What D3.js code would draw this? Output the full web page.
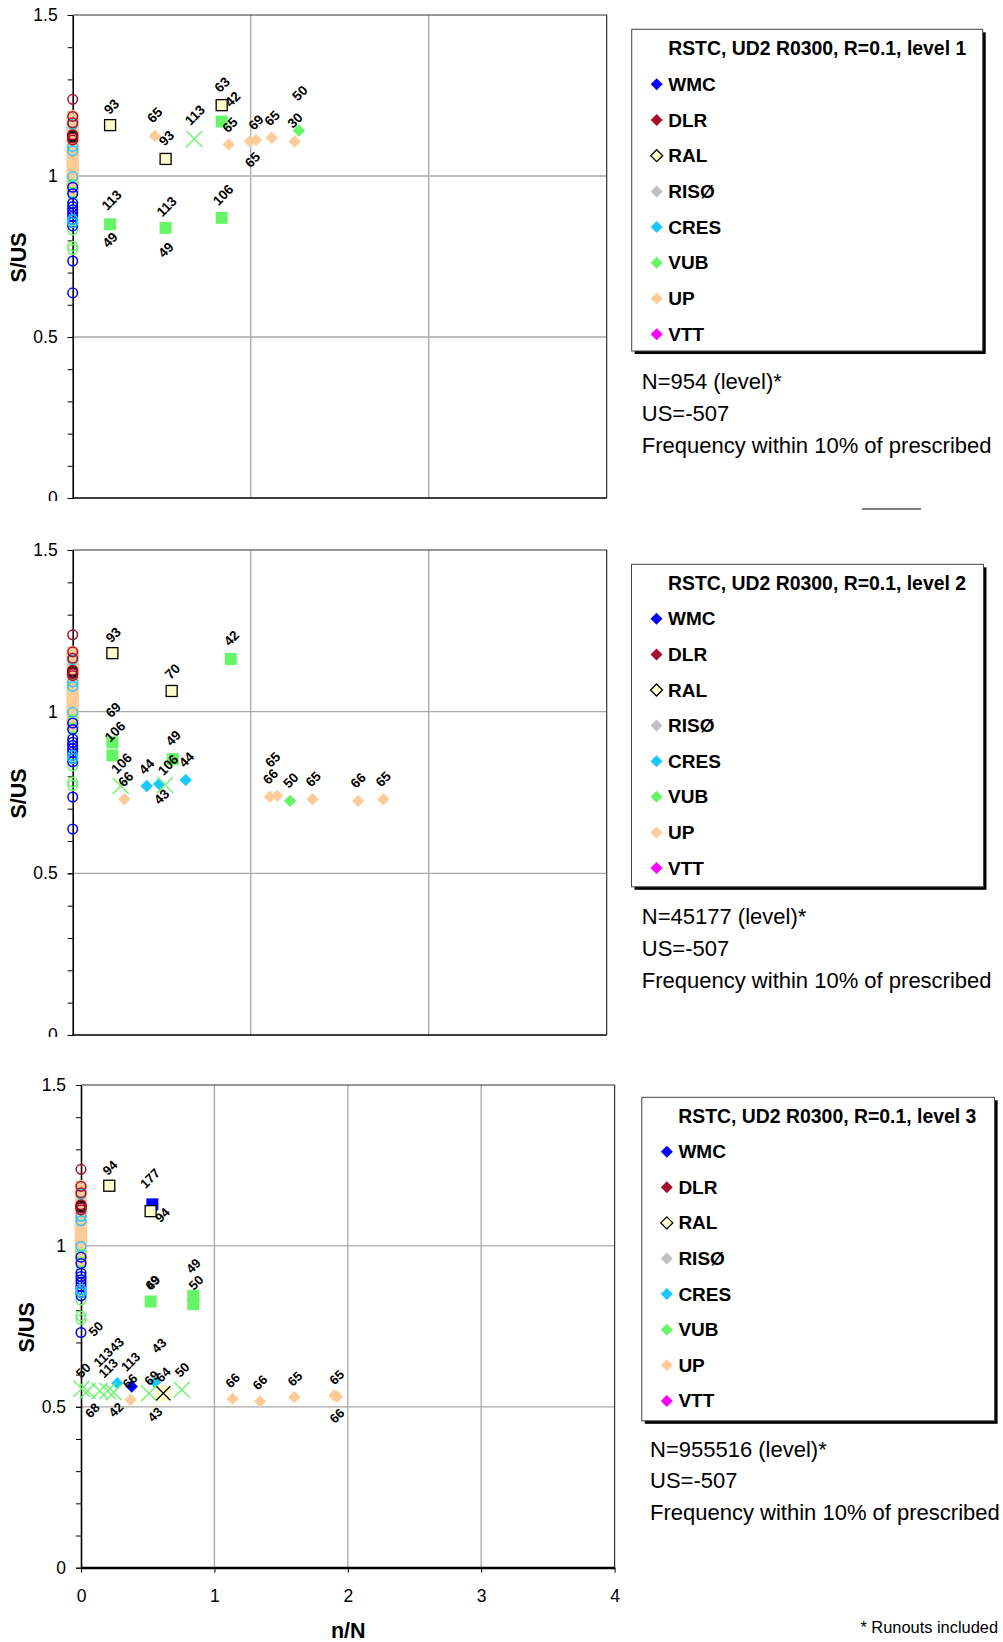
<!DOCTYPE html>
<html>
<head>
<meta charset="utf-8">
<script src="https://cdn.jsdelivr.net/npm/d3@7"></script>
<style>
  body { margin: 0; background: #fff; }
  svg { display: block; }
  text { font-family: "Liberation Sans", Arial, Helvetica, sans-serif; }
</style>
</head>
<body>
<svg id="chart" width="1003" height="1642"></svg>
<script>
// ---------------- data ----------------
const seriesNames = ["WMC", "DLR", "RAL", "RISØ", "CRES", "VUB", "UP", "VTT"];
const yTickValues = [0, 0.5, 1, 1.5];
const xTickValues = [0, 1, 2, 3, 4];
const legendTitles = [
  "RSTC, UD2 R0300, R=0.1, level 1",
  "RSTC, UD2 R0300, R=0.1, level 2",
  "RSTC, UD2 R0300, R=0.1, level 3"
];
const noteCounts = ["N=954 (level)*", "N=45177 (level)*", "N=955516 (level)*"];
const noteUS = "US=-507";
const noteFreq = "Frequency within 10% of prescribed";
const footNote = "* Runouts included";

// open circles at n/N = 0, S/US values per series
const colUP = [1.185, 1.175, 1.165, 1.155, 1.145, 1.135, 1.125, 1.115, 1.105, 1.095, 1.085,
               1.075, 1.065, 1.055, 1.045, 1.035, 1.025, 1.015, 1.005, 0.995, 0.985, 0.975, 0.965, 0.955];
const colVUB = [0.975, 0.95, 0.922, 0.832, 0.782, 0.772];
const colWMC12 = [0.965, 0.945, 0.915, 0.905, 0.895, 0.885, 0.875, 0.865, 0.855, 0.845, 0.736, 0.637];
const colWMC3 = [0.965, 0.945, 0.915, 0.905, 0.895, 0.885, 0.875, 0.865, 0.855, 0.845, 0.731];
const colCRES = [1.16, 1.092, 1.078, 0.998, 0.865, 0.855];
const colRAL = [1.125, 1.12];
const colDLR = [1.238, 1.185, 1.165, 1.128, 1.118, 1.112];

// level 1: [series, n/N, S/US]
const squares1 = [["RAL", 0.21, 1.158], ["RAL", 0.522, 1.053], ["RAL", 0.837, 1.22],
                  ["VUB", 0.21, 0.85], ["VUB", 0.522, 0.839], ["VUB", 0.837, 0.87], ["VUB", 0.837, 1.169]];
const diamonds1 = [["UP", 0.462, 1.124], ["UP", 0.876, 1.098], ["UP", 0.996, 1.108], ["UP", 1.03, 1.112],
                   ["UP", 1.118, 1.119], ["UP", 1.247, 1.107], ["VUB", 1.271, 1.141]];
const crosses1 = [["VUB", 0.683, 1.115]];
// point labels: [n/N, S/US, text]
const labels1 = [[0.219, 1.215, "93"], [0.462, 1.189, "65"], [0.528, 1.117, "93"], [0.687, 1.189, "113"],
                 [0.840, 1.283, "63"], [0.899, 1.238, "42"], [0.884, 1.158, "65"], [1.03, 1.166, "69"],
                 [1.121, 1.179, "65"], [1.011, 1.050, "65"], [1.277, 1.257, "50"], [1.249, 1.172, "30"],
                 [0.219, 0.925, "113"], [0.210, 0.801, "49"], [0.528, 0.905, "113"], [0.524, 0.770, "49"],
                 [0.846, 0.941, "106"]];

// level 2
const squares2 = [["RAL", 0.223, 1.181], ["RAL", 0.556, 1.064], ["VUB", 0.888, 1.163],
                  ["VUB", 0.223, 0.905], ["VUB", 0.223, 0.865], ["VUB", 0.562, 0.853]];
const diamonds2 = [["CRES", 0.416, 0.770], ["CRES", 0.485, 0.776], ["CRES", 0.635, 0.789], ["VUB", 1.221, 0.724],
                   ["UP", 0.290, 0.729], ["UP", 1.108, 0.737], ["UP", 1.149, 0.740], ["UP", 1.348, 0.729],
                   ["UP", 1.604, 0.724], ["UP", 1.745, 0.729]];
const crosses2 = [["VUB", 0.270, 0.770], ["VUB", 0.519, 0.773]];
const labels2 = [[0.228, 1.237, "93"], [0.561, 1.124, "70"], [0.893, 1.227, "42"], [0.228, 1.005, "69"],
                 [0.238, 0.938, "106"], [0.275, 0.840, "106"], [0.299, 0.791, "66"], [0.565, 0.918, "49"],
                 [0.416, 0.830, "44"], [0.537, 0.835, "106"], [0.50, 0.737, "43"], [0.640, 0.851, "44"],
                 [1.112, 0.799, "66"], [1.124, 0.851, "65"], [1.226, 0.787, "50"], [1.352, 0.791, "65"],
                 [1.604, 0.787, "66"], [1.745, 0.791, "65"]];

// level 3
const squares3 = [["RAL", 0.212, 1.187], ["WMC", 0.535, 1.129], ["RAL", 0.522, 1.108],
                  ["VUB", 0.522, 0.827], ["VUB", 0.842, 0.845], ["VUB", 0.842, 0.819]];
const diamonds3 = [["CRES", 0.272, 0.573], ["CRES", 0.555, 0.576], ["WMC", 0.38, 0.563],
                   ["UP", 0.372, 0.522], ["UP", 1.137, 0.525], ["UP", 1.342, 0.517], ["UP", 1.599, 0.530],
                   ["UP", 1.90, 0.535], ["UP", 1.92, 0.532]];
const crosses3 = [["VUB", 0.005, 0.556], ["VUB", 0.05, 0.549], ["VUB", 0.14, 0.549], ["VUB", 0.20, 0.549],
                  ["VUB", 0.245, 0.545], ["VUB", 0.51, 0.542], ["VUB", 0.755, 0.553], ["RAL", 0.617, 0.542]];
const labels3 = [[0.217, 1.243, "94"], [0.517, 1.210, "177"], [0.610, 1.096, "94"], [0.537, 0.886, "69"],
                 [0.537, 0.886, "49"], [0.842, 0.938, "49"], [0.862, 0.886, "50"], [0.112, 0.742, "50"],
                 [0.017, 0.613, "50"], [0.085, 0.489, "68"], [0.167, 0.654, "113"], [0.267, 0.693, "43"],
                 [0.205, 0.620, "113"], [0.262, 0.491, "42"], [0.372, 0.640, "113"], [0.367, 0.580, "66"],
                 [0.530, 0.590, "69"], [0.617, 0.600, "64"], [0.758, 0.615, "50"], [0.585, 0.690, "43"],
                 [0.555, 0.476, "43"], [1.137, 0.582, "66"], [1.342, 0.576, "66"], [1.604, 0.587, "65"],
                 [1.917, 0.592, "65"], [1.919, 0.472, "66"]];

// ---------------- styles ----------------
const colors = {
  WMC: "#0000ff", DLR: "#a5102c", RAL: "#ffffcc", "RISØ": "#c0c0c0",
  CRES: "#19c8ff", VUB: "#66f566", UP: "#ffcc99", VTT: "#ff00ff"
};
const lineColor = s => s === "RAL" ? "#000" : colors[s];
const FONT = '"Liberation Sans", Arial, Helvetica, sans-serif';

const svg = d3.select("#chart");

function buildColumn(wmc) {
  const out = [];
  colUP.forEach(v => out.push(["UP", v]));
  colVUB.forEach(v => out.push(["VUB", v]));
  wmc.forEach(v => out.push(["WMC", v]));
  colCRES.forEach(v => out.push(["CRES", v]));
  colRAL.forEach(v => out.push(["RAL", v]));
  colDLR.forEach(v => out.push(["DLR", v]));
  return out;
}

const panels = [
  { left: 72.7, right: 606.7, top: 15, bottom: 498, xMax: 3, clip: [0, 501], xAxis: false,
    column: buildColumn(colWMC12), squares: squares1, diamonds: diamonds1, crosses: crosses1, labels: labels1,
    labelSize: 13.5,
    legend: { x: 631.7, y: 29.3, w: 351, h: 321.7, titleY: 48, row0: 84.3, step: 35.7 },
    notes: { x: 641.8, y0: 381, step: 32 } },
  { left: 72.7, right: 606.7, top: 550, bottom: 1035, xMax: 3, clip: [504, 1037], xAxis: false,
    column: buildColumn(colWMC12), squares: squares2, diamonds: diamonds2, crosses: crosses2, labels: labels2,
    labelSize: 13.5,
    legend: { x: 631.5, y: 564.3, w: 352, h: 322.5, titleY: 583.2, row0: 618.8, step: 35.6 },
    notes: { x: 641.8, y0: 916, step: 32 } },
  { left: 81, right: 614.6, top: 1085, bottom: 1567.7, xMax: 4, clip: [1040, 1642], xAxis: true,
    column: buildColumn(colWMC3), squares: squares3, diamonds: diamonds3, crosses: crosses3, labels: labels3,
    labelSize: 13,
    legend: { x: 641.8, y: 1097.3, w: 352.8, h: 323.5, titleY: 1116, row0: 1151.7, step: 35.6 },
    notes: { x: 650, y0: 1449, step: 31.5 } }
];

const defs = svg.append("defs");

panels.forEach((p, i) => {
  const x = d3.scaleLinear().domain([0, p.xMax]).range([p.left, p.right]);
  const y = d3.scaleLinear().domain([0, 1.5]).range([p.bottom, p.top]);

  defs.append("clipPath").attr("id", "clip" + i)
    .append("rect").attr("x", 0).attr("y", p.clip[0]).attr("width", 1003).attr("height", p.clip[1] - p.clip[0]);
  const g = svg.append("g").attr("clip-path", `url(#clip${i})`);

  // gridlines
  g.selectAll(".vgrid").data(d3.range(1, p.xMax)).join("line")
    .attr("x1", d => x(d)).attr("x2", d => x(d)).attr("y1", y(0)).attr("y2", y(1.5))
    .attr("stroke", "#a8a8a8").attr("stroke-width", 1.3);
  g.selectAll(".hgrid").data([0.5, 1]).join("line")
    .attr("x1", x(0)).attr("x2", x(p.xMax)).attr("y1", d => y(d)).attr("y2", d => y(d))
    .attr("stroke", "#a8a8a8").attr("stroke-width", 1.3);

  // frame top / right / bottom
  g.append("path")
    .attr("d", `M${x(0)},${y(1.5)}H${x(p.xMax)}V${y(0)}`)
    .attr("fill", "none").attr("stroke", "#333").attr("stroke-width", 1.2);
  g.append("line").attr("x1", x(0)).attr("x2", x(p.xMax)).attr("y1", y(0)).attr("y2", y(0))
    .attr("stroke", "#000").attr("stroke-width", p.xAxis ? 2 : 1.5);

  // minor y ticks
  const minor = d3.range(0, 1.501, 0.1);
  const minorAxis = g.append("g").attr("transform", `translate(${x(0)},0)`)
    .call(d3.axisLeft(y).tickValues(minor).tickSize(5).tickSizeOuter(0).tickFormat(""));
  minorAxis.select(".domain").remove();
  minorAxis.selectAll("line").attr("stroke", "#000");

  // y axis
  const yAxis = g.append("g").attr("transform", `translate(${x(0)},0)`)
    .call(d3.axisLeft(y).tickValues(yTickValues).tickSize(5).tickSizeOuter(0).tickPadding(10)
      .tickFormat(d => String(d)));
  yAxis.select(".domain").attr("stroke", "#000").attr("stroke-width", 1.6);
  yAxis.selectAll("line").attr("stroke", "#000");
  yAxis.selectAll("text").attr("font-family", FONT).attr("font-size", 17.5).attr("fill", "#000");

  // x axis (last panel only)
  if (p.xAxis) {
    const xAxis = g.append("g").attr("transform", `translate(0,${y(0)})`)
      .call(d3.axisBottom(x).tickValues(xTickValues).tickSize(5).tickSizeOuter(0).tickPadding(17)
        .tickFormat(d => String(d)));
    xAxis.select(".domain").attr("stroke", "#000").attr("stroke-width", 2);
    xAxis.selectAll("line").attr("stroke", "#000");
    xAxis.selectAll("text").attr("font-family", FONT).attr("font-size", 17.5).attr("fill", "#000");
    svg.append("text").attr("x", (x(0) + x(p.xMax)) / 2 + 0.5).attr("y", 1631)
      .attr("text-anchor", "middle").attr("dominant-baseline", "central")
      .attr("font-weight", "bold").attr("font-size", 21.5).text("n/N");
  }

  // y title
  svg.append("text")
    .attr("transform", `translate(${x(0) - 54},${(y(0) + y(1.5)) / 2 + 1}) rotate(-90)`)
    .attr("text-anchor", "middle").attr("dominant-baseline", "central")
    .attr("font-weight", "bold").attr("font-size", 21.5).text("S/US");

  // column of open circles at n/N = 0
  g.selectAll(".col").data(p.column).join("circle")
    .attr("cx", x(0)).attr("cy", d => y(d[1])).attr("r", 4.8)
    .attr("fill", "none").attr("stroke", d => lineColor(d[0]))
    .attr("stroke-width", d => d[0] === "UP" ? 3.2 : 1.5);

  // squares
  g.selectAll(".sq").data(p.squares).join("rect")
    .attr("x", d => x(d[1]) - (d[0] === "RAL" ? 5.5 : 6))
    .attr("y", d => y(d[2]) - (d[0] === "RAL" ? 5.5 : 6))
    .attr("width", d => d[0] === "RAL" ? 11 : 12).attr("height", d => d[0] === "RAL" ? 11 : 12)
    .attr("fill", d => colors[d[0]])
    .attr("stroke", d => d[0] === "RAL" ? "#000" : "none").attr("stroke-width", 1.3);

  // diamonds
  g.selectAll(".dm").data(p.diamonds).join("path")
    .attr("transform", d => `translate(${x(d[1])},${y(d[2])})`)
    .attr("d", "M0,-6.2L6.2,0L0,6.2L-6.2,0Z")
    .attr("fill", d => colors[d[0]]);

  // crosses (RAL cross sits on its own filled background)
  g.selectAll(".xbg").data(p.crosses.filter(d => d[0] === "RAL")).join("rect")
    .attr("x", d => x(d[1]) - 8).attr("y", d => y(d[2]) - 8).attr("width", 16).attr("height", 16)
    .attr("fill", colors.RAL);
  g.selectAll(".xm").data(p.crosses).join("path")
    .attr("transform", d => `translate(${x(d[1])},${y(d[2])})`)
    .attr("d", d => d[0] === "RAL" ? "M-7,-7L7,7M-7,7L7,-7" : "M-8,-8L8,8M-8,8L8,-8")
    .attr("fill", "none").attr("stroke", d => lineColor(d[0])).attr("stroke-width", 1.3);

  // point labels
  g.selectAll(".lb").data(p.labels).join("text")
    .attr("transform", d => `translate(${x(d[0])},${y(d[1])}) rotate(-45)`)
    .attr("text-anchor", "middle").attr("dominant-baseline", "central")
    .attr("font-weight", "bold").attr("font-size", p.labelSize).attr("fill", "#000")
    .text(d => d[2]);

  // legend
  const L = p.legend;
  const lg = svg.append("g");
  lg.append("rect").attr("x", L.x + 3).attr("y", L.y + 3).attr("width", L.w).attr("height", L.h).attr("fill", "#000");
  lg.append("rect").attr("x", L.x).attr("y", L.y).attr("width", L.w).attr("height", L.h)
    .attr("fill", "#fff").attr("stroke", "#444").attr("stroke-width", 1);
  lg.append("text").attr("x", L.x + 36.5).attr("y", L.titleY).attr("dominant-baseline", "central")
    .attr("font-weight", "bold").attr("font-size", 19.4).text(legendTitles[i]);
  const rows = lg.selectAll(".row").data(seriesNames).join("g")
    .attr("transform", (d, k) => `translate(${L.x + 25},${L.row0 + k * L.step})`);
  rows.append("path").attr("d", "M0,-6L6,0L0,6L-6,0Z")
    .attr("fill", d => colors[d])
    .attr("stroke", d => d === "RAL" ? "#000" : "none").attr("stroke-width", 1.3);
  rows.append("text").attr("x", 11.6).attr("dominant-baseline", "central")
    .attr("font-weight", "bold").attr("font-size", 19).text(d => d);

  // notes
  const N = p.notes;
  svg.selectAll(null).data([noteCounts[i], noteUS, noteFreq]).join("text")
    .attr("x", N.x).attr("y", (d, k) => N.y0 + k * N.step).attr("dominant-baseline", "central")
    .attr("font-size", 22).attr("fill", "#000").text(d => d);
});

// separator fragment between the first two charts
svg.append("line").attr("x1", 862).attr("x2", 921).attr("y1", 509).attr("y2", 509)
  .attr("stroke", "#000").attr("stroke-width", 1.2);

svg.append("text").attr("x", 998).attr("y", 1627).attr("text-anchor", "end")
  .attr("dominant-baseline", "central").attr("font-size", 16.4).text(footNote);
</script>
</body>
</html>
